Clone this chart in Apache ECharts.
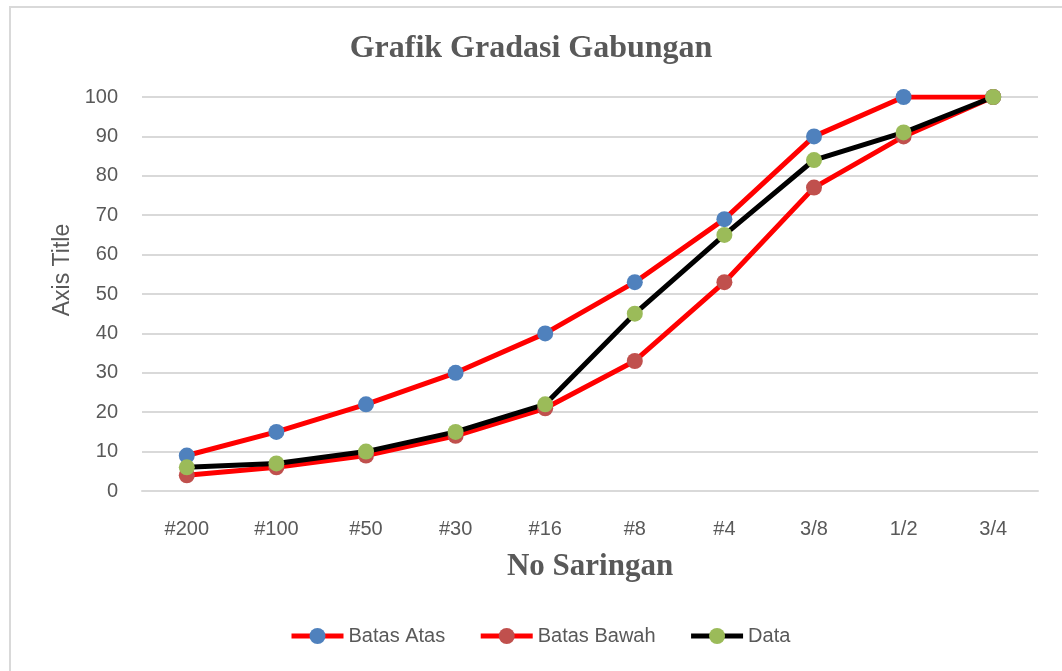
<!DOCTYPE html>
<html>
<head>
<meta charset="utf-8">
<script src="https://cdn.jsdelivr.net/npm/echarts@6/dist/echarts.min.js"></script>
<style>
  html, body { margin: 0; padding: 0; background: #fff; }
  #frame { position: absolute; left: 9px; top: 6px; width: 1100px; height: 700px;
           border-left: 2px solid #d9d9d9; border-top: 2px solid #d9d9d9; }
  #chart { position: absolute; left: 0; top: 0; width: 1062px; height: 671px; }
</style>
</head>
<body>
<div id="frame"></div>
<div id="chart"></div>
<script>
// sieve sizes
const categories = ['#200', '#100', '#50', '#30', '#16', '#8', '#4', '3/8', '1/2', '3/4']
const batasAtas = [9, 15, 22, 30, 40, 53, 69, 90, 100, 100]
const batasBawah = [4, 6, 9, 14, 21, 33, 53, 77, 90, 100]
const dataLolos = [6, 7, 10, 15, 22, 45, 65, 84, 91, 100]

const textGray = '#595959'
const sans = '"Liberation Sans", Arial, sans-serif'
const serif = '"Liberation Serif", "Times New Roman", serif'

const chart = echarts.init(document.getElementById('chart'))

const mkSeries = (name, data, lineColor, dotColor) => ({
  name, type: 'line', data,
  symbol: 'circle', symbolSize: 16,
  lineStyle: { color: lineColor, width: 5 },
  itemStyle: { color: dotColor },
  emphasis: { disabled: true }
})

chart.setOption({
  animation: false,
  title: {
    text: 'Grafik Gradasi Gabungan',
    left: 'center', top: 28,
    textStyle: { fontFamily: serif, fontWeight: 'bold', fontSize: 32, color: textGray }
  },
  legend: {
    bottom: 20, left: 284,
    itemWidth: 52, itemHeight: 20, itemGap: 33,
    lineStyle: { width: 5 },
    textStyle: { fontFamily: sans, fontSize: 20, color: textGray },
    data: ['Batas Atas', 'Batas Bawah', 'Data']
  },
  grid: { left: 142, right: 24, top: 97, bottom: 180 },
  xAxis: {
    type: 'category', data: categories,
    name: 'No Saringan', nameLocation: 'middle', nameGap: 60,
    nameTextStyle: { fontFamily: serif, fontWeight: 'bold', fontSize: 31, color: textGray },
    axisLine: { lineStyle: { color: '#d9d9d9', width: 2 } },
    axisTick: { show: false },
    axisLabel: { fontFamily: sans, fontSize: 20, color: textGray, margin: 28 }
  },
  yAxis: {
    type: 'value', min: 0, max: 100, interval: 10,
    name: 'Axis Title', nameLocation: 'middle', nameGap: 68,
    nameTextStyle: { fontFamily: sans, fontSize: 23, color: textGray, padding: [0, 0, 0, 48] },
    axisLine: { show: false },
    axisTick: { show: false },
    axisLabel: { fontFamily: sans, fontSize: 20, color: textGray, margin: 24 },
    splitLine: { lineStyle: { color: '#d9d9d9', width: 2 } }
  },
  series: [
    mkSeries('Batas Atas', batasAtas, '#ff0000', '#4f81bd'),
    mkSeries('Batas Bawah', batasBawah, '#ff0000', '#c0504d'),
    mkSeries('Data', dataLolos, '#000000', '#9bbb59')
  ]
})
</script>
</body>
</html>
